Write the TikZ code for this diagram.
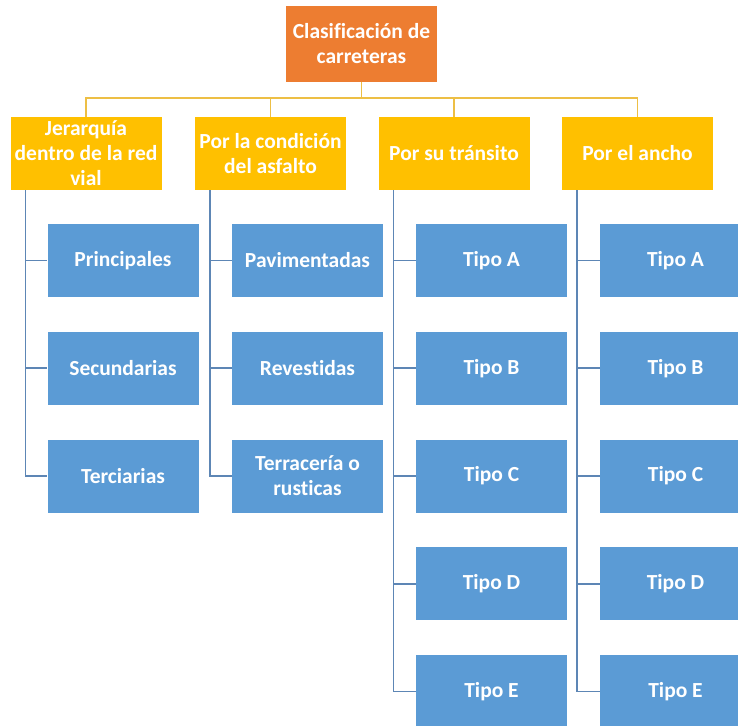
\documentclass[tikz,border=0pt]{standalone}
\usepackage{fontspec}
\setmainfont{Carlito}[Ligatures=NoCommon]
\usepackage{xcolor}
\usepackage{tikz}
\usetikzlibrary{calc}
\definecolor{rust}{HTML}{ED7D31}
\definecolor{amber}{HTML}{FFC000}
\definecolor{sky}{HTML}{5B9BD5}
\definecolor{amberln}{HTML}{EDBF45}
\definecolor{skyln}{HTML}{5D86B5}

\begin{document}
\begin{tikzpicture}[x=1pt, y=-1pt,
  box/.style={minimum width=151pt, minimum height=73pt, inner sep=2pt, align=center,
    text=white, font=\bfseries\fontsize{21.5}{25}\selectfont},
  rootbox/.style={box, fill=rust, minimum height=75pt},
  catbox/.style={box, fill=amber},
  leaf/.style={box, fill=sky},
  busln/.style={amberln, line width=1.6pt},
  treeln/.style={skyln, line width=1.6pt}]
  \useasboundingbox (0,0) rectangle (738,725);
  \clip (0,0) rectangle (738,725);
  % root and categories
  \node[rootbox] (root) at (361.5,44) {Clasificación de\\carreteras};
  \node[catbox] (c1) at (86,153.5)   {Jerarquía\\dentro de la red\\vial};
  \node[catbox] (c2) at (270.5,153.5) {Por la condición\\del asfalto};
  \node[catbox] (c3) at (454,153.5)  {Por su tránsito};
  \node[catbox] (c4) at (637.5,153.5) {Por el ancho};
  % leaves
  \node[leaf] (c1-1) at (123,260.5) {Principales};
  \node[leaf] (c1-2) at (123,368.25) {Secundarias};
  \node[leaf] (c1-3) at (123,476) {Terciarias};
  \node[leaf] (c2-1) at (307.5,260.5) {Pavimentadas};
  \node[leaf] (c2-2) at (307.5,368.25) {Revestidas};
  \node[leaf] (c2-3) at (307.5,476) {Terracería o\\rusticas};
  \foreach \col/\x in {3/491.5, 4/675.5}{
    \node[leaf] (c\col-1) at (\x,260.5) {Tipo A};
    \node[leaf] (c\col-2) at (\x,368.25) {Tipo B};
    \node[leaf] (c\col-3) at (\x,476) {Tipo C};
    \node[leaf] (c\col-4) at (\x,583.75) {Tipo D};
    \node[leaf] (c\col-5) at (\x,691.5) {Tipo E};
  }
  % bus from root to categories
  \coordinate (bus) at (361.5,98);
  \draw[busln] (root.south) -- (bus);
  \foreach \c in {c1,c2,c3,c4}{\draw[busln] (bus) -| (\c.north);}
  % trees under categories
  \foreach \c/\n in {c1/3, c2/3, c3/5, c4/5}{
    \coordinate (\c-t) at ($(\c.south west)+(15,0)$);
    \foreach \k in {1,...,\n}{\draw[treeln] (\c-t) |- (\c-\k.west);}
  }
\end{tikzpicture}
\end{document}
